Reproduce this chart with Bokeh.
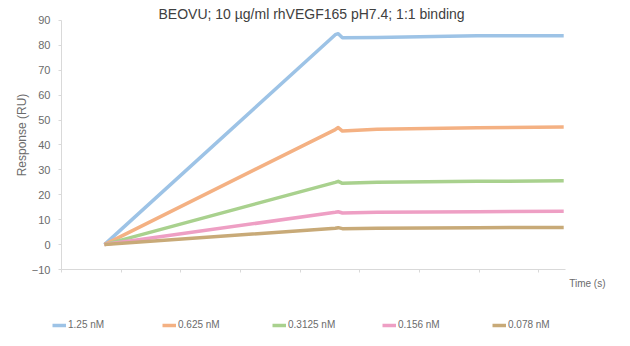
from bokeh.plotting import figure
from bokeh.layouts import column
from bokeh.models import Range1d, Label, Legend, LegendItem, FixedTicker
from bokeh.embed import file_html
from bokeh.resources import INLINE

title_text = "BEOVU; 10 µg/ml rhVEGF165  pH7.4; 1:1 binding"
y_label = "Response (RU)"
x_label = "Time (s)"

series_names = ["1.25 nM", "0.625 nM", "0.3125 nM", "0.156 nM", "0.078 nM"]
series_colors = ["#9DC3E6", "#F4B183", "#A9D18E", "#EE9FC4", "#C8AA78"]

time_s = [72, 459, 464, 471, 529, 697, 842]
resp_1250 = [0, 84.3, 84.7, 83.1, 83.2, 83.9, 83.9]
resp_0625 = [0, 46.2, 47.0, 45.6, 46.3, 46.9, 47.2]
resp_03125 = [0, 25.0, 25.4, 24.6, 25.0, 25.4, 25.6]
resp_0156 = [0, 13.0, 13.2, 12.7, 13.0, 13.2, 13.4]
resp_0078 = [0, 6.6, 6.8, 6.4, 6.6, 6.8, 6.9]
series_values = [resp_1250, resp_0625, resp_03125, resp_0156, resp_0078]

y_ticks = [-10, 0, 10, 20, 30, 40, 50, 60, 70, 80, 90]
x_ticks = [0, 100, 200, 300, 400, 500, 600, 700, 800]

FONT = "Liberation Sans"
GRAY = "#6B6B6B"

# ---------------- main chart ----------------
p = figure(width=630, height=276, output_backend="svg", toolbar_location=None,
           x_range=Range1d(0, 845), y_range=Range1d(-10, 98.03),
           min_border_left=61, min_border_right=65, min_border_top=0, min_border_bottom=7)
p.outline_line_color = None
p.xgrid.visible = False
p.ygrid.visible = False

for vals, col in zip(series_values, series_colors):
    p.line(time_s, vals, line_color=col, line_width=3.5, line_join="round")

ya = p.yaxis[0]
ya.ticker = FixedTicker(ticks=y_ticks)
ya.bounds = (-10, 90)
ya.axis_line_color = "#D9D9D9"
ya.major_tick_line_color = "#D9D9D9"
ya.major_tick_out = 3
ya.major_tick_in = 0
ya.minor_tick_line_color = None
ya.major_label_standoff = 8
ya.major_label_text_font = FONT
ya.major_label_text_font_size = "11px"
ya.major_label_text_color = GRAY
ya.axis_label = y_label
ya.axis_label_text_font = FONT
ya.axis_label_text_font_size = "12px"
ya.axis_label_text_font_style = "normal"
ya.axis_label_text_color = GRAY
ya.axis_label_standoff = 0

xa = p.xaxis[0]
xa.ticker = FixedTicker(ticks=x_ticks)
xa.bounds = (0, 845)
xa.axis_line_color = "#D9D9D9"
xa.major_tick_line_color = "#D9D9D9"
xa.major_tick_out = 3
xa.major_tick_in = 0
xa.minor_tick_line_color = None
xa.major_label_text_color = None
xa.major_label_text_font_size = "1px"
xa.major_label_standoff = 0

p.add_layout(Label(x=422.5, y=92.8, text=title_text, text_align="center",
                   text_baseline="middle", text_font=FONT, text_font_size="14px",
                   text_color="#404040"))

# ---------------- legend strip ----------------
# y range placed away from the series values so that only the legend swatches show
q = figure(width=630, height=70, output_backend="svg", toolbar_location=None,
           x_range=Range1d(0, 630), y_range=Range1d(1000, 1070),
           x_axis_type=None, y_axis_type=None,
           min_border_left=0, min_border_right=0, min_border_top=0, min_border_bottom=0)
q.outline_line_color = None
q.xgrid.visible = False
q.ygrid.visible = False
try:
    q.frame_align = False
    p.frame_align = False
except Exception:
    pass

swatches = [q.line(time_s, vals, line_color=col, line_width=3.5)
            for vals, col in zip(series_values, series_colors)]

q.add_layout(Label(x=605, y=1063, text=x_label, text_align="right", text_baseline="middle",
                   text_font=FONT, text_font_size="10px", text_color=GRAY))

items = [LegendItem(label=n, renderers=[r]) for n, r in zip(series_names, swatches)]
legend = Legend(items=items, orientation="horizontal", location=(52, 16),
                glyph_width=14, glyph_height=10, label_height=10, label_width=90,
                label_standoff=2, spacing=4, padding=0, margin=0,
                label_text_font=FONT, label_text_font_size="10px",
                label_text_color=GRAY, border_line_color=None,
                background_fill_alpha=0)
q.add_layout(legend)

layout = column(p, q, spacing=0)
open("out.html", "w").write(file_html(layout, INLINE))
